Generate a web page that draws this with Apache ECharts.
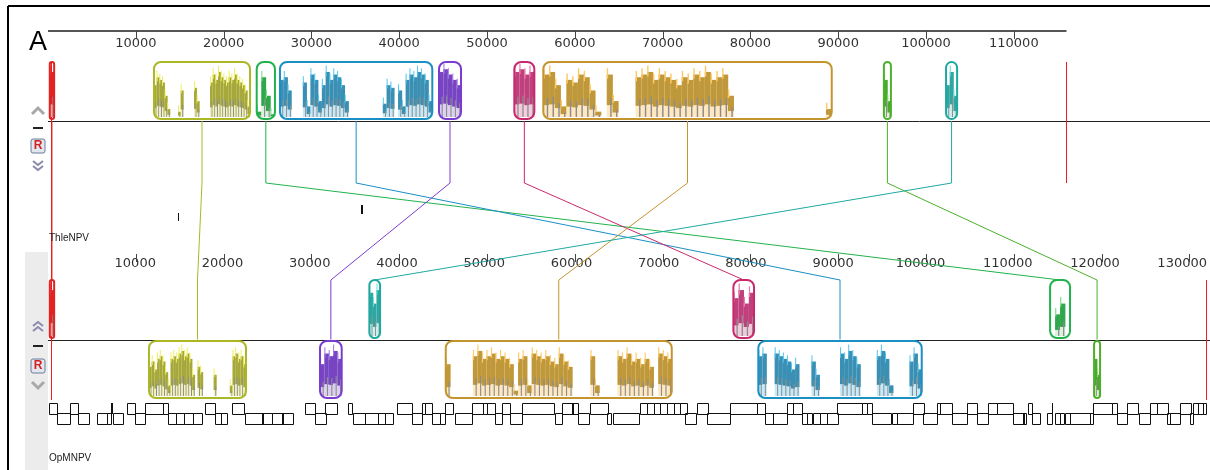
<!DOCTYPE html>
<html><head><meta charset="utf-8">
<script src="https://cdn.jsdelivr.net/npm/echarts@6/dist/echarts.min.js"></script>
<style>html,body{margin:0;padding:0;background:#fff}#c{width:1210px;height:470px}</style>
</head><body><div id="c"></div>
<script>
// ---------------- DATA ----------------
const genomeNames = ['ThleNPV', 'OpMNPV'];
const genomeLengths = [116000, 132000];
const topTicks = [10000, 20000, 30000, 40000, 50000, 60000, 70000, 80000, 90000, 100000, 110000];
const bottomTicks = [10000, 20000, 30000, 40000, 50000, 60000, 70000, 80000, 90000, 100000, 110000, 120000, 130000];

// LCBs (locally collinear blocks), same order in every array
const lcbIds = ['red', 'olive', 'green', 'blue', 'purple', 'magenta', 'tan', 'green2', 'teal'];
const lcbTopStart = [200, 12070, 23770, 26420, 44530, 53110, 56410, 95200, 102280];
const lcbTopEnd   = [700, 23010, 25850, 43770, 47040, 55390, 89260, 96000, 103540];
const lcbBotStart = [200, 11500, 114130, 80900, 30980, 78060, 45300, 119140, 36600];
const lcbBotEnd   = [700, 22550, 116400, 99510, 33450, 80410, 71040, 119820, 37820];
const lcbBotSide  = [1, -1, 1, -1, -1, 1, -1, -1, 1]; // 1 = above centre line, -1 = inverted (below)

// similarity profiles (percent), left to right inside each block
const profTopRed = [85];
const profTopOlive = [60,75,70,65,40,15,0,0,0,10,50,0,0,0,0,55,30,0,0,0,0,65,80,70,85,75,70,65,75,70,80,70,65,60,50,20];
const profTopGreen = [10,75,40,5];
const profTopBlue = [70,75,50,0,0,0,65,20,80,70,30,60,85,70,80,75,60,30,0,0,0,0,0,0,0,0,0,25,60,55,0,50,20,70,80,75,85,80,70,30];
const profTopPurple = [85,90,80,70,60];
const profTopMagenta = [85,90,80,85];
const profTopTan = [80,85,60,20,70,65,80,75,50,10,0,80,30,0,0,0,75,80,85,70,80,75,70,60,75,70,80,75,85,70,75,80,40,0,0,0,0,0,0,0,0,0,0,0,0,0,0,0,0,15];
const profTopGreen2 = [70,30];
const profTopTeal = [60,85,40];

const profBotRed = [85];
const profBotOlive = [55,65,50,70,75,65,45,20,70,75,70,80,85,75,80,70,40,0,55,45,0,0,0,0,40,0,0,0,0,0,20,75,80,70,75,60];
const profBotGreen = [0,40,60,0];
const profBotBlue = [75,80,0,0,80,75,70,65,50,60,0,0,0,65,40,0,0,0,0,0,80,70,85,75,60,0,0,0,0,75,85,70,20,0,0,0,0,65,80,50];
const profBotPurple = [60,80,75,85,70];
const profBotMagenta = [70,85,60,80];
const profBotTan = [60,0,0,0,0,0,75,85,70,75,80,70,75,70,60,10,70,75,20,80,75,70,75,65,60,80,65,55,0,0,0,0,75,20,0,0,0,0,75,70,80,65,70,60,70,55,0,80,75,70];
const profBotGreen2 = [70,40];
const profBotTeal = [80,60,85];

// annotated features [start, end, strand]
const thleGenes = [[14750, 14850, -1], [35600, 35780, 1]];
const opmGenes = [
[100,1000,1],[1000,2500,-1],[2500,3400,1],[3400,4600,-1],[5600,6700,-1],[6700,7100,-1],[7200,7400,1],[7400,8500,-1],
[9000,9900,1],[9900,11000,-1],[11000,13100,1],[13100,13700,1],[13700,14600,-1],[14600,15500,-1],[15500,16500,-1],[16500,17500,-1],
[17900,19000,1],[19000,19700,-1],[19700,20400,-1],[21000,22400,1],[22400,24400,-1],[24400,25500,-1],[25500,26700,-1],[26700,27900,-1],
[29300,30400,1],[30400,31600,-1],[31600,33000,1],[34200,34700,1],[34700,36100,-1],[36100,37600,-1],[37600,38400,-1],[38400,39300,-1],
[39800,41500,1],[41500,42600,-1],[42600,42900,1],[42900,43700,1],[43700,44600,-1],[44600,45200,-1],[45200,46100,1],[46400,48300,-1],
[48300,49500,1],[49500,50000,1],[50000,50900,1],[50900,51700,-1],[51700,52600,1],[52600,54000,-1],[54000,57700,1],[57700,58500,-1],
[58500,59700,1],[59700,60400,1],[60400,61700,-1],[61700,63700,1],[63700,64200,-1],[64400,67400,-1],[67400,68200,1],[68200,69000,1],
[69000,69700,1],[69700,70500,1],[70500,71300,1],[71300,72000,1],[72000,72800,1],[72600,73900,-1],[73900,75100,1],[75100,77700,-1],
[77700,80800,1],[80800,81700,1],[81700,82600,-1],[82600,84200,-1],[84200,84900,1],[84900,85900,1],[85900,86500,-1],[86500,87100,-1],
[87100,87900,-1],[87900,88700,-1],[88700,89900,-1],[89900,92700,1],[92700,93300,1],[93300,93900,1],[93900,96100,-1],[96100,96700,-1],
[96700,98500,-1],[98500,99700,1],[99700,101300,-1],[101300,101600,1],[101600,103000,1],[103000,104700,-1],[104700,105800,1],[105800,107100,-1],
[107100,108100,1],[108100,109900,1],[109900,111100,-1],[111100,111400,-1],[111600,112100,1],[112100,113000,-1],[113800,114400,-1],[114400,114500,1],
[114700,115300,-1],[115300,115800,-1],[115800,116400,-1],[116400,118700,-1],[118700,119000,-1],[119000,121200,1],[121200,121800,1],[121800,122900,-1],
[122900,124200,1],[124200,125500,-1],[125500,126300,1],[126300,127500,1],[127500,127800,-1],[127800,128900,-1],[128900,130100,1],[130100,130400,-1],
[130400,131000,1],[131000,131600,1],[131600,131900,1]
];

// ---------------- STYLE / LAYOUT ----------------
const lcbStyle = {
  red:     {border:'#e02424', dark:'#e02424', light:'#ff6060', tint:'#f4a0a0'},
  olive:   {border:'#abb824', dark:'#a6a83c', light:'#eef05a', tint:'#f4f4b8'},
  green:   {border:'#22b24c', dark:'#2ea84a', light:'#80e090', tint:'#d8f2dc'},
  blue:    {border:'#1a8fc4', dark:'#3b8fb3', light:'#50c6f0', tint:'#c4eafa'},
  purple:  {border:'#7a3ccf', dark:'#7845c2', light:'#a67ee6', tint:'#dccff2'},
  magenta: {border:'#c8286e', dark:'#bf407c', light:'#f07ab0', tint:'#f2cadc'},
  tan:     {border:'#c4952e', dark:'#c0983c', light:'#ffc860', tint:'#ffe8c0'},
  green2:  {border:'#4cb02a', dark:'#48a830', light:'#90e070', tint:'#dcf2d2'},
  teal:    {border:'#1fa8a0', dark:'#2fa6a0', light:'#62e2da', tint:'#ccf0ee'}
};
const GREY = '#8c8c8c';
const AXIS_FONT = '"DejaVu Sans", Verdana, sans-serif';
const L = {
  axisY: 31, axisY2: 254, tickLen: 8,
  top: {bTop: 62, bBot: 119, line: 121, featUp: [205, 214], featDn: [213, 221]},
  bend1: 183, bend2: 280,
  bot: {aTop: 280, aBot: 338, line: 339.5, dTop: 341, dBot: 398, featUp: [403, 414], featDn: [413, 424]}
};
const topProfiles = [profTopRed, profTopOlive, profTopGreen, profTopBlue, profTopPurple, profTopMagenta, profTopTan, profTopGreen2, profTopTeal];
const botProfiles = [profBotRed, profBotOlive, profBotGreen, profBotBlue, profBotPurple, profBotMagenta, profBotTan, profBotGreen2, profBotTeal];

function band(track, side) {
  if (track === 0) return {top: L.top.bTop, bot: L.top.bBot};
  return side === 1 ? {top: L.bot.aTop, bot: L.bot.aBot} : {top: L.bot.dTop, bot: L.bot.dBot};
}

// ---- build series data ----
const profileData = [];
function pushProfile(s, e, arr, k, track, side) {
  const w = (e - s) / arr.length;
  arr.forEach((v, i) => { if (v > 0) profileData.push([s + i * w, s + (i + 1) * w, v, k, track, side]); });
}
const blockData = [];
const linkData = [];
lcbIds.forEach((id, k) => {
  pushProfile(lcbTopStart[k], lcbTopEnd[k], topProfiles[k], k, 0, 1);
  pushProfile(lcbBotStart[k], lcbBotEnd[k], botProfiles[k], k, 1, lcbBotSide[k]);
  blockData.push([lcbTopStart[k], lcbTopEnd[k], k, 0, 1]);
  blockData.push([lcbBotStart[k], lcbBotEnd[k], k, 1, lcbBotSide[k]]);
  linkData.push([(lcbTopStart[k] + lcbTopEnd[k]) / 2, (lcbBotStart[k] + lcbBotEnd[k]) / 2, k, lcbBotSide[k]]);
});
const geneData = [];
thleGenes.forEach(g => geneData.push([g[0], g[1], g[2], 0]));
opmGenes.forEach(g => geneData.push([g[0], g[1], g[2], 1]));
const tickData = [];
topTicks.forEach(v => tickData.push([v, 0]));
bottomTicks.forEach(v => tickData.push([v, 1]));

const chart = echarts.init(document.getElementById('c'));
const px = (api, bp, y) => api.coord([bp, y]);
const labelCfg = (vals, margin) => ({inside: true, margin: margin, customValues: vals, hideOverlap: false,
  color: '#333', fontSize: 13, fontFamily: AXIS_FONT, formatter: v => String(v)});

const option = {
  animation: false,
  grid: [
    {left: 48, width: 1159, top: L.axisY, height: 470 - L.axisY},
    {left: 48, width: 1159, top: L.axisY2, height: 150}
  ],
  xAxis: [
    {gridIndex: 0, type: 'value', min: 0, max: genomeLengths[1], position: 'top',
     axisLine: {show: false}, splitLine: {show: false}, axisTick: {show: false},
     axisLabel: labelCfg(topTicks, 6)},
    {gridIndex: 1, type: 'value', min: 0, max: genomeLengths[1], position: 'top',
     axisLine: {show: false}, splitLine: {show: false}, axisTick: {show: false},
     axisLabel: labelCfg(bottomTicks, 3)}
  ],
  yAxis: [
    {gridIndex: 0, type: 'value', min: L.axisY, max: 470, inverse: true, show: false},
    {gridIndex: 1, type: 'value', min: 0, max: 1, show: false}
  ],
  series: [
    // top coordinate axis line (genome extent)
    {type: 'custom', xAxisIndex: 0, yAxisIndex: 0, z: 3, silent: true,
     data: [[0, genomeLengths[0]]],
     renderItem: (p, api) => {
       const a = px(api, api.value(0), L.axisY), b = px(api, api.value(1), L.axisY);
       return {type: 'line', shape: {x1: a[0], y1: a[1], x2: b[0], y2: b[1]}, style: {stroke: '#555', lineWidth: 2}};
     }},
    // axis ticks (crossing the top of the labels)
    {type: 'custom', xAxisIndex: 0, yAxisIndex: 0, z: 6, silent: true,
     data: tickData,
     renderItem: (p, api) => {
       const y0 = api.value(1) === 0 ? L.axisY : L.axisY2;
       const a = px(api, api.value(0), y0), b = px(api, api.value(0), y0 + L.tickLen);
       const x = Math.round(a[0]) + 0.5;
       return {type: 'line', shape: {x1: x, y1: a[1], x2: x, y2: b[1]}, style: {stroke: '#444', lineWidth: 1}};
     }},
    // centre lines
    {type: 'custom', xAxisIndex: 0, yAxisIndex: 0, z: 2, silent: true,
     data: [[0, genomeLengths[1], 0], [0, genomeLengths[1], 1]],
     renderItem: (p, api) => {
       const y = api.value(2) === 0 ? L.top.line : L.bot.line;
       const a = px(api, api.value(0), y), b = px(api, api.value(1), y);
       return {type: 'line', shape: {x1: a[0], y1: Math.round(a[1]) + 0.5, x2: b[0] + 3, y2: Math.round(b[1]) + 0.5}, style: {stroke: '#222', lineWidth: 1}};
     }},
    // genome boundary markers
    {type: 'custom', xAxisIndex: 0, yAxisIndex: 0, z: 2, silent: true,
     data: [[(lcbTopStart[0] + lcbTopEnd[0]) / 2, 0], [genomeLengths[0], 1], [genomeLengths[1], 2]],
     renderItem: (p, api) => {
       const kind = api.value(1);
       const spans = [[L.top.bTop, 400], [L.top.bTop, L.bend1], [L.bot.aTop, 400]];
       const a = px(api, api.value(0), spans[kind][0]), b = px(api, api.value(0), spans[kind][1]);
       const x = Math.round(a[0]) - 0.5;
       return {type: 'line', shape: {x1: x, y1: a[1], x2: x, y2: b[1]}, style: {stroke: '#ee1c1c', lineWidth: 1}};
     }},
    // connecting lines between homologous blocks
    {type: 'custom', xAxisIndex: 0, yAxisIndex: 0, z: 3, silent: true,
     data: linkData,
     renderItem: (p, api) => {
       const k = api.value(2), side = api.value(3);
       const t0 = px(api, api.value(0), L.top.line), t1 = px(api, api.value(0), L.bend1);
       const b0 = px(api, api.value(1), L.bend2), b1 = px(api, api.value(1), side === 1 ? L.bot.aTop : L.bot.line);
       return {type: 'polyline', shape: {points: [t0, t1, b0, b1]}, style: {stroke: lcbStyle[lcbIds[k]].border, lineWidth: 1, fill: null}};
     }},
    // similarity profiles
    {type: 'custom', xAxisIndex: 0, yAxisIndex: 0, z: 4, silent: true,
     data: profileData,
     renderItem: (p, api) => {
       const v = api.value(2), k = api.value(3), tr = api.value(4), sd = api.value(5);
       const b = band(tr, sd);
       const c = lcbStyle[lcbIds[k]];
       const x0 = px(api, api.value(0), b.top)[0], x1 = px(api, api.value(1), b.top)[0];
       const yb = px(api, api.value(0), b.bot - 2)[1], yt = px(api, api.value(0), b.top + 2)[1];
       const H = yb - yt, h = H * v / 100, w = Math.max(1, x1 - x0);
       const sp = Math.min(H * 0.12, H - h);
       return {type: 'group', children: [
         {type: 'rect', shape: {x: x0, y: yb - h, width: w + 0.3, height: h}, style: {fill: c.tint}},
         {type: 'rect', shape: {x: x0, y: yb - h, width: w + 0.3, height: h * 0.72}, style: {fill: c.dark}},
         {type: 'rect', shape: {x: x0, y: yb - h - sp, width: Math.max(1, w * 0.25), height: sp + h * 0.1}, style: {fill: c.light}},
         {type: 'rect', shape: {x: x0 + w * 0.6, y: yb - h * 0.45, width: Math.max(1, w * 0.25), height: h * 0.45}, style: {fill: GREY}}
       ]};
     }},
    // block outlines
    {type: 'custom', xAxisIndex: 0, yAxisIndex: 0, z: 5, silent: true,
     data: blockData,
     renderItem: (p, api) => {
       const k = api.value(2), b = band(api.value(3), api.value(4));
       const a = px(api, api.value(0), b.top), e = px(api, api.value(1), b.bot);
       const w = Math.max(3, e[0] - a[0]);
       const c = lcbStyle[lcbIds[k]];
       return {type: 'rect', shape: {x: a[0], y: a[1], width: w, height: e[1] - a[1], r: Math.min(7, w / 2)},
               style: {stroke: c.border, lineWidth: 2, fill: null}};
     }},
    // annotated genes
    {type: 'custom', xAxisIndex: 0, yAxisIndex: 0, z: 5, silent: true,
     data: geneData,
     renderItem: (p, api) => {
       const tr = api.value(3), strand = api.value(2);
       const rows = tr === 0 ? L.top : L.bot;
       const yy = strand === 1 ? rows.featUp : rows.featDn;
       const a = px(api, api.value(0), yy[0]), b = px(api, api.value(1), yy[1]);
       const w = Math.round(b[0] - a[0]);
       if (w <= 2) {
         return {type: 'rect', shape: {x: Math.round(a[0]), y: Math.round(a[1]), width: Math.max(1, w), height: Math.round(b[1] - a[1])}, style: {fill: '#111'}};
       }
       return {type: 'rect', shape: {x: Math.round(a[0]) + 0.5, y: Math.round(a[1]) + 0.5, width: w, height: Math.round(b[1] - a[1])},
               style: {stroke: '#111', lineWidth: 1, fill: null}};
     }}
  ],
  graphic: [
    // frame
    {type: 'line', shape: {x1: 8, y1: 6, x2: 1210, y2: 6}, style: {stroke: '#000', lineWidth: 2}, z: 10},
    {type: 'line', shape: {x1: 8, y1: 6, x2: 8, y2: 470}, style: {stroke: '#000', lineWidth: 2}, z: 10},
    {type: 'rect', shape: {x: 25, y: 252, width: 23, height: 218}, style: {fill: '#ececec'}, z: 0},
    {type: 'text', x: 29, y: 29, style: {text: 'A', font: '27px "Liberation Sans", Arial, sans-serif', fill: '#000'}, z: 10},
    {type: 'text', x: 49, y: 233, style: {text: genomeNames[0], font: '10px "Liberation Sans", Arial, sans-serif', fill: '#222'}, z: 10},
    {type: 'text', x: 49, y: 453, style: {text: genomeNames[1], font: '10px "Liberation Sans", Arial, sans-serif', fill: '#222'}, z: 10},
    // top track controls
    {type: 'polyline', shape: {points: [[32, 114], [38, 108], [44, 114]]}, style: {stroke: '#a8a8a8', lineWidth: 3, fill: null}, z: 10},
    {type: 'line', shape: {x1: 33, y1: 128, x2: 43, y2: 128}, style: {stroke: '#222', lineWidth: 2}, z: 10},
    {type: 'rect', shape: {x: 31, y: 139, width: 14, height: 14, r: 2}, style: {fill: '#e2e6ef', stroke: '#6b7c99', lineWidth: 1}, z: 10},
    {type: 'text', x: 38, y: 146, style: {text: 'R', font: 'bold 12px "Liberation Sans", Arial, sans-serif', fill: '#d42020', align: 'center', verticalAlign: 'middle'}, z: 11},
    {type: 'polyline', shape: {points: [[33, 161], [38, 165], [43, 161]]}, style: {stroke: '#8a8aae', lineWidth: 2, fill: null}, z: 10},
    {type: 'polyline', shape: {points: [[33, 166], [38, 170], [43, 166]]}, style: {stroke: '#8a8aae', lineWidth: 2, fill: null}, z: 10},
    // bottom track controls
    {type: 'polyline', shape: {points: [[33, 326], [38, 322], [43, 326]]}, style: {stroke: '#8a8aae', lineWidth: 2, fill: null}, z: 10},
    {type: 'polyline', shape: {points: [[33, 331], [38, 327], [43, 331]]}, style: {stroke: '#8a8aae', lineWidth: 2, fill: null}, z: 10},
    {type: 'line', shape: {x1: 33, y1: 346, x2: 43, y2: 346}, style: {stroke: '#222', lineWidth: 2}, z: 10},
    {type: 'rect', shape: {x: 31, y: 359, width: 14, height: 14, r: 2}, style: {fill: '#e2e6ef', stroke: '#6b7c99', lineWidth: 1}, z: 10},
    {type: 'text', x: 38, y: 366, style: {text: 'R', font: 'bold 12px "Liberation Sans", Arial, sans-serif', fill: '#d42020', align: 'center', verticalAlign: 'middle'}, z: 11},
    {type: 'polyline', shape: {points: [[32, 382], [38, 388], [44, 382]]}, style: {stroke: '#a8a8a8', lineWidth: 3, fill: null}, z: 10}
  ]
};
chart.setOption(option);
</script>
</body></html>
